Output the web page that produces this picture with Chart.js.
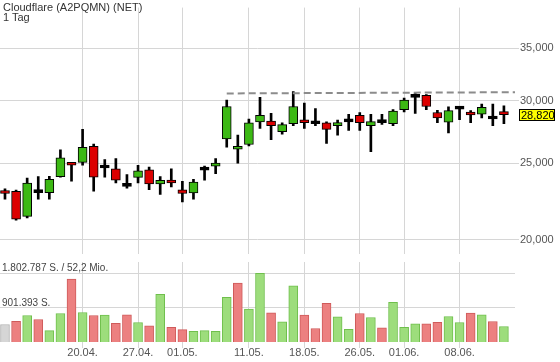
<!DOCTYPE html>
<html lang="de">
<head>
<meta charset="utf-8">
<title>Cloudflare (A2PQMN) (NET)</title>
<script src="https://cdn.jsdelivr.net/npm/chart.js@4.4.1/dist/chart.umd.min.js"></script>
<style>
  html, body { margin: 0; padding: 0; background: #fff; }
  #wrap { position: relative; width: 560px; height: 362px; overflow: hidden; font-family: 'Liberation Sans', Arial, sans-serif; }
  #priceChart { position: absolute; left: 0; top: 0; }
  #volChart { position: absolute; left: 0; top: 262px; }
  #title { position: absolute; left: 3px; top: 2px; font-size: 11px; line-height: 10px; color: #333; pointer-events: none; }
</style>
</head>
<body>
<div id="wrap">
  <canvas id="priceChart" width="560" height="262"></canvas>
  <canvas id="volChart" width="560" height="100"></canvas>
  <div id="title">Cloudflare (A2PQMN) (NET)<br>1 Tag</div>
</div>
<script>
// --- Daten (Tageskerzen) ---
const dates = ['08.04.', '09.04.', '13.04.', '14.04.', '15.04.', '16.04.', '17.04.', '20.04.', '21.04.', '22.04.',
  '23.04.', '24.04.', '27.04.', '28.04.', '29.04.', '30.04.', '01.05.', '04.05.', '05.05.', '06.05.',
  '07.05.', '08.05.', '11.05.', '12.05.', '13.05.', '14.05.', '15.05.', '18.05.', '19.05.', '20.05.',
  '21.05.', '22.05.', '26.05.', '27.05.', '28.05.', '29.05.', '01.06.', '02.06.', '03.06.', '04.06.',
  '05.06.', '08.06.', '09.06.', '10.06.', '11.06.', '12.06.'];

const open = [23.02, 23.04, 21.41, 22.95, 22.95, 24.05, 25.00, 25.07, 26.27, 24.66,
  24.59, 23.37, 23.99, 24.52, 23.53, 23.79, 23.14, 22.93, 24.50, 24.79,
  26.85, 26.05, 26.41, 28.22, 28.29, 27.42, 28.06, 28.29, 28.06, 28.14,
  27.91, 28.22, 28.77, 27.91, 28.16, 28.06, 29.24, 30.31, 30.50, 29.00,
  28.19, 29.29, 29.00, 28.85, 28.45, 28.95];
const high = [23.21, 23.12, 23.94, 24.05, 24.07, 26.00, 25.03, 27.60, 26.44, 25.28,
  25.35, 24.19, 24.86, 24.72, 24.05, 24.59, 23.72, 23.86, 24.79, 25.35,
  30.06, 27.15, 28.45, 30.31, 28.93, 28.14, 30.82, 29.81, 29.33, 28.22,
  28.37, 28.85, 29.00, 28.85, 28.85, 29.24, 30.25, 30.67, 30.56, 29.19,
  29.49, 29.51, 29.16, 29.73, 29.73, 29.57];
const low = [22.52, 21.17, 21.31, 22.52, 22.52, 24.01, 23.72, 24.86, 23.04, 24.01,
  23.60, 23.25, 23.60, 23.14, 22.83, 23.34, 22.33, 22.52, 23.79, 24.25,
  26.20, 25.00, 26.31, 27.68, 26.78, 27.23, 27.91, 27.68, 27.91, 26.49,
  27.15, 27.53, 27.53, 25.86, 28.01, 27.91, 29.05, 28.93, 29.24, 28.14,
  27.32, 28.40, 28.14, 28.55, 27.91, 28.06];
const close = [22.89, 21.23, 23.60, 22.95, 23.86, 25.41, 24.86, 26.20, 24.01, 24.66,
  23.79, 23.37, 24.45, 23.53, 23.79, 23.60, 22.89, 23.66, 24.50, 24.93,
  29.51, 26.27, 28.14, 28.77, 27.91, 27.99, 29.51, 28.14, 28.06, 27.60,
  28.06, 28.22, 28.14, 28.24, 28.16, 29.11, 30.06, 30.31, 29.51, 28.55,
  29.16, 29.29, 28.79, 29.43, 28.45, 28.82];

// Umsatz in Stueck
const volume = [458600, 545600, 695800, 590400, 300500, 748500, 1652500, 774900, 695800, 703700,
  492900, 711600, 511300, 421700, 1249300, 387400, 326800, 282000, 300500, 282000,
  1170200, 1547100, 861800, 1802787, 764300, 527100, 1475900, 703700, 353200, 1012100,
  658900, 334700, 748500, 643100, 369000, 1038400, 387400, 474400, 474400, 519200,
  669400, 511300, 756400, 711600, 537700, 405900];
const volMaxTurnoverMio = 52.2;

// Widerstandslinie (gestrichelt) ab 07.05.
const resistanceStart = '07.05.';
const resistanceLevels = [30.66, 30.77];

// Achsenbeschriftungen
const tickLabels = ['20.04.', '27.04.', '01.05.', '11.05.', '18.05.', '26.05.', '01.06.', '08.06.'];
const priceTicks = [20, 25, 30, 35];

// --- Helfer ---
const FONT = "'Liberation Sans', Arial, sans-serif";
const GRID = '#d6d6d6';
const fmtPrice = v => v.toFixed(3).replace('.', ',');
const fmtShares = n => Math.floor(n).toString().replace(/\B(?=(\d{3})+(?!\d))/g, '.');

const tickPos = tickLabels.map(l => dates.indexOf(l));
const lastClose = close[close.length - 1];
const volMax = Math.max(...volume);
const X_MIN = -0.45;
const X_MAX = dates.length;

const candleColor = i => open[i] === close[i] ? '#000' : (close[i] > open[i] ? '#3cb914' : '#dc0000');
const volUp = i => i === 0 ? null : close[i] >= close[i - 1];

// gemeinsame Zeitachse (Handelstage als Index), Gitter genau auf den Wochenmarken
const xScale = (showLabels) => ({
  type: 'linear',
  min: X_MIN,
  max: X_MAX,
  offset: false,
  grid: { color: GRID, offset: false, drawTicks: showLabels, tickLength: 6 },
  border: { display: false },
  ticks: {
    display: showLabels,
    color: '#555',
    font: { family: FONT, size: 11 },
    padding: -2,
    maxRotation: 0,
    autoSkip: false,
    callback: v => tickLabels[tickPos.indexOf(v)] || ''
  },
  afterBuildTicks: s => { s.ticks = tickPos.map(v => ({ value: v })); },
  afterFit: s => { s.height = showLabels ? 20 : 0; }
});

// Gelbes Kursschild am rechten Rand
const priceTag = {
  id: 'priceTag',
  afterDraw(chart) {
    const c = chart.ctx;
    const y = Math.round(chart.scales.y.getPixelForValue(lastClose));
    const x = chart.chartArea.right + 4;
    c.save();
    c.fillStyle = '#ffff00';
    c.fillRect(x, y - 6, 36, 12);
    c.strokeStyle = '#000';
    c.lineWidth = 1;
    c.strokeRect(x + 0.5, y - 5.5, 35, 11);
    c.fillStyle = '#000';
    c.font = '11px ' + FONT;
    c.textAlign = 'left';
    c.textBaseline = 'middle';
    c.fillText(fmtPrice(lastClose), x + 2, y + 0.5);
    c.restore();
  }
};

// Beschriftung der Volumen-Linien
const volLabels = {
  id: 'volLabels',
  afterDraw(chart) {
    const c = chart.ctx;
    const s = chart.scales.y;
    c.save();
    c.fillStyle = '#444';
    c.font = '10px ' + FONT;
    c.textAlign = 'left';
    c.textBaseline = 'alphabetic';
    c.fillText(fmtShares(volMax) + ' S. / ' + volMaxTurnoverMio.toFixed(1).replace('.', ',') + ' Mio.', 2, s.getPixelForValue(volMax) - 2);
    c.fillText(fmtShares(volMax / 2) + ' S.', 2, s.getPixelForValue(volMax / 2) - 2);
    c.restore();
  }
};

// --- Kurschart ---
const priceChart = new Chart(document.getElementById('priceChart'), {
  type: 'bar',
  data: {
    datasets: [
      {
        type: 'line',
        label: 'Widerstand',
        data: [{ x: dates.indexOf(resistanceStart), y: resistanceLevels[0] }, { x: X_MAX, y: resistanceLevels[1] }],
        borderColor: '#8c8c8c',
        borderWidth: 2,
        borderDash: [7, 4],
        pointRadius: 0,
        order: 0
      },
      {
        label: 'Kerze',
        data: dates.map((d, i) => ({ x: i, y: [open[i], close[i]] })),
        backgroundColor: ctx => candleColor(ctx.dataIndex),
        borderColor: '#000',
        borderWidth: 1,
        borderSkipped: false,
        barThickness: 9,
        minBarLength: 3,
        grouped: false,
        order: 1
      },
      {
        label: 'Docht',
        data: dates.map((d, i) => ({ x: i, y: [low[i], high[i]] })),
        backgroundColor: '#000',
        borderWidth: 0,
        barThickness: 2,
        grouped: false,
        order: 2
      }
    ]
  },
  options: {
    responsive: false,
    animation: false,
    devicePixelRatio: 1,
    layout: { padding: 0 },
    plugins: { legend: { display: false }, tooltip: { enabled: false } },
    scales: {
      x: xScale(false),
      y: {
        type: 'logarithmic',
        position: 'right',
        min: 19.157,
        max: 39.40,
        grid: { color: GRID, tickLength: 4 },
        border: { display: false },
        ticks: {
          color: '#555',
          font: { family: FONT, size: 11 },
          padding: 1,
          callback: v => fmtPrice(v)
        },
        afterBuildTicks: s => { s.ticks = priceTicks.map(v => ({ value: v })); },
        afterFit: s => { s.width = 45; }
      }
    }
  },
  plugins: [priceTag]
});

// --- Volumenchart ---
const volChart = new Chart(document.getElementById('volChart'), {
  type: 'bar',
  data: {
    datasets: [{
      label: 'Volumen',
      data: volume.map((v, i) => ({ x: i, y: v })),
      backgroundColor: ctx => {
        const up = volUp(ctx.dataIndex);
        return up === null ? '#d6d6d6' : (up ? '#9ddd7c' : '#ec8080');
      },
      borderColor: ctx => {
        const up = volUp(ctx.dataIndex);
        return up === null ? '#b4b4b4' : (up ? '#6fbf4c' : '#cf5a5a');
      },
      borderWidth: 1,
      borderSkipped: 'bottom',
      barThickness: 9,
      grouped: false
    }]
  },
  options: {
    responsive: false,
    animation: false,
    devicePixelRatio: 1,
    layout: { padding: 0 },
    plugins: { legend: { display: false }, tooltip: { enabled: false } },
    scales: {
      x: xScale(true),
      y: {
        type: 'linear',
        position: 'right',
        min: 0,
        max: 2100000,
        grid: { color: GRID, drawTicks: false },
        border: { display: false },
        ticks: { display: false },
        afterBuildTicks: s => { s.ticks = [volMax / 2, volMax].map(v => ({ value: v })); },
        afterFit: s => { s.width = 45; }
      }
    }
  },
  plugins: [volLabels]
});
</script>
</body>
</html>
